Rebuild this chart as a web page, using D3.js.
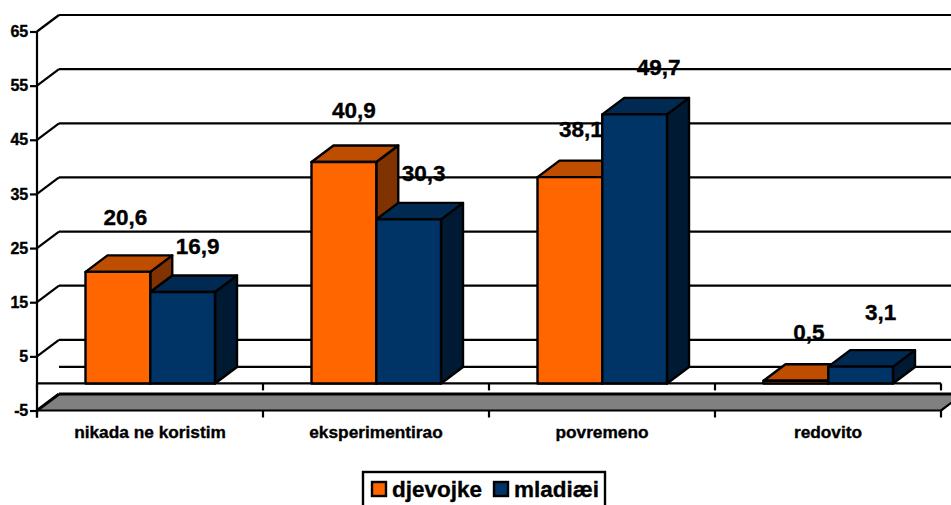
<!DOCTYPE html>
<html><head><meta charset="utf-8">
<style>html,body{margin:0;padding:0;background:#fff;overflow:hidden}svg{display:block}text{font-family:"Liberation Sans",Arial,sans-serif;font-weight:bold;fill:#000;stroke:#000;stroke-width:0.35px}</style>
<script src="https://cdn.jsdelivr.net/npm/d3@7"></script></head><body>
<script>
const categories = ["nikada ne koristim","eksperimentirao","povremeno","redovito"];
const seriesNames = ["djevojke","mladiæi"];
const djevojke = [20.6,40.9,38.1,0.5];
const mladici = [16.9,30.3,49.7,3.1];
const valueLabels = [["20,6","40,9","38,1","0,5"],["16,9","30,3","49,7","3,1"]];
const yTicks = [-5,5,15,25,35,45,55,65];
// label placement relative to the bar's front top centre [dx, dy]
const labelNudge = [[[7.5,-47],[10,-44],[11,-40],[13,-41]],[[15,-38],[15,-38],[24,-39],[20,-47]]];
const fills = [{front:"#FF6600",top:"#BF4D00",side:"#803300"},{front:"#003366",top:"#002A52",side:"#001A33"}];

const W=951,H=505,DX=22,DY=-16.5;
const svg=d3.select("body").append("svg").attr("width",W).attr("height",H);
const y=d3.scaleLinear().domain([-5,65]).range([410.5,31.5]);
const x=d3.scaleBand().domain(categories).range([37,941]);
const x1=d3.scaleBand().domain(seriesNames).range([48.5,178]);
const values=[djevojke,mladici];
const line=(a,b,c,d,w=2.2)=>svg.append("line").attr("x1",a).attr("y1",b).attr("x2",c).attr("y2",d).attr("stroke","#000").attr("stroke-width",w);
const L=x.range()[0],R=x.range()[1];

// floor
svg.append("polygon").attr("fill","#808080")
  .attr("points",[[L,y(-5)],[L+DX,y(-5)+DY],[R+DX,y(-5)+DY],[R,y(-5)]].join(" "));
line(L,y(-5),L+DX,y(-5)+DY,3);
line(L+DX,y(-5)+DY,W,y(-5)+DY,3);
line(L,y(-5),R,y(-5),2.2);
line(R,y(-5),R+DX,y(-5)+DY,2.2);

// back wall gridlines
yTicks.filter(t=>t>-5).forEach(t=>{
  line(L,y(t),L+DX,y(t)+DY);
  line(L+DX,y(t)+DY,W,y(t)+DY);
});
line(L+DX,y(0)+DY,W,y(0)+DY);

// value axis
const gy=svg.append("g").attr("transform",`translate(${L},0)`)
  .call(d3.axisLeft(y).tickValues(yTicks).tickSize(7).tickPadding(2).tickFormat(d=>String(d)));
gy.select(".domain").attr("stroke","#000").attr("stroke-width",2.2).attr("d",`M0,${y(65)}V${y(-5)+7}`);
gy.selectAll("line").attr("stroke","#000").attr("stroke-width",2.2);
gy.selectAll("text").style("font-size","16px").style("letter-spacing","-0.2px");

// zero line and category ticks
line(L,y(0),R,y(0));
const edges=categories.map(c=>x(c)).concat([R]);
edges.forEach(e=>{line(e,y(0),e,y(0)+7);line(e,y(-5),e,y(-5)+7);});

// category labels
const gx=svg.append("g").attr("transform",`translate(0,${y(-5)})`)
  .call(d3.axisBottom(x).tickSize(0).tickPadding(15));
gx.select(".domain").remove();
gx.selectAll("text").style("font-size","17.3px");

// value labels sit behind the bars
seriesNames.forEach((s,si)=>categories.forEach((c,ci)=>{
  const n=labelNudge[si][ci];
  svg.append("text").attr("x",x(c)+x1(s)+x1.bandwidth()/2+n[0]).attr("y",y(values[si][ci])+n[1])
    .attr("text-anchor","middle").style("font-size","22.5px").text(valueLabels[si][ci]);
}));

// bars
categories.forEach((c,ci)=>seriesNames.forEach((s,si)=>{
  const x0=x(c)+x1(s),x2=x0+x1.bandwidth(),yt=y(values[si][ci]),yb=y(0),f=fills[si];
  const g=svg.append("g").attr("stroke","#000").attr("stroke-width",2.4).attr("stroke-linejoin","round");
  g.append("polygon").attr("fill",f.side).attr("points",[[x2,yb],[x2+DX,yb+DY],[x2+DX,yt+DY],[x2,yt]].join(" "));
  g.append("polygon").attr("fill",f.top).attr("points",[[x0,yt],[x0+DX,yt+DY],[x2+DX,yt+DY],[x2,yt]].join(" "));
  g.append("rect").attr("fill",f.front).attr("x",x0).attr("y",yt).attr("width",x2-x0).attr("height",yb-yt);
}));

// legend
svg.append("rect").attr("x",363).attr("y",472).attr("width",242).attr("height",40).attr("fill","#fff").attr("stroke","#000").attr("stroke-width",2.4);
const legendX=[372,494];
seriesNames.forEach((s,i)=>{
  svg.append("rect").attr("x",legendX[i]).attr("y",482).attr("width",14).attr("height",14).attr("fill",fills[i].front).attr("stroke","#000").attr("stroke-width",2.4);
  svg.append("text").attr("x",legendX[i]+20).attr("y",497).style("font-size","22.5px").text(s);
});
</script></body></html>
